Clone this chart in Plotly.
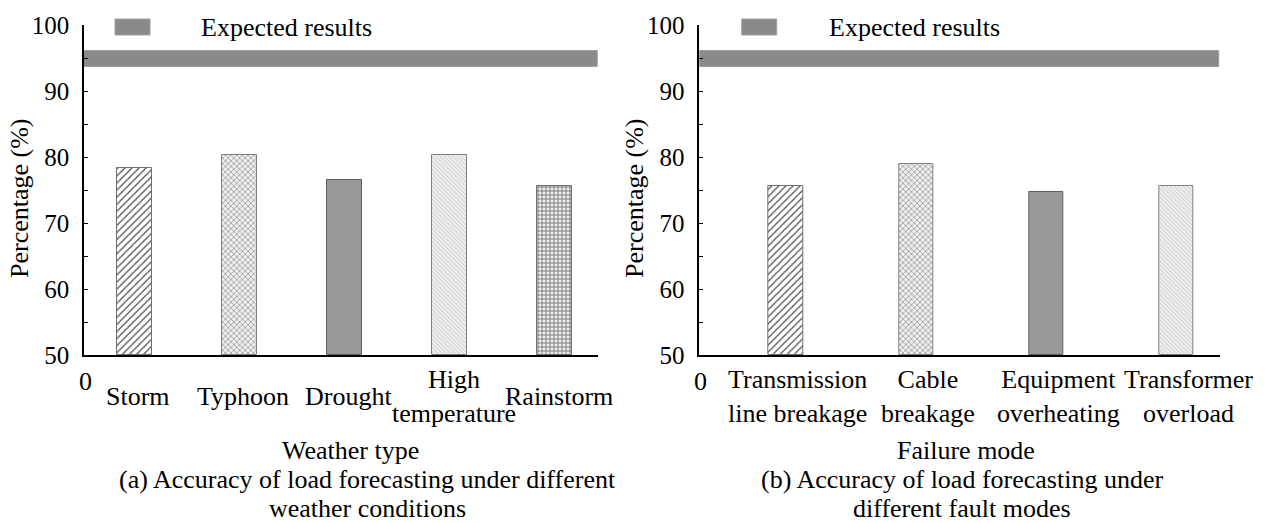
import plotly.graph_objects as go

W, H = 1267, 523
FONT = "Liberation Serif, Times New Roman, serif"

# ---------------- data ----------------
weather_types = ["Storm", "Typhoon", "Drought", "High<br>temperature", "Rainstorm"]
weather_acc = [78.4, 80.3, 76.5, 80.3, 75.6]

fault_modes = ["Transmission<br>line breakage", "Cable<br>breakage",
               "Equipment<br>overheating", "Transformer<br>overload"]
fault_acc = [75.6, 79.0, 74.7, 75.6]

expected_low, expected_high = 93.7, 96.0
expected_label = "Expected results"
y_ticks = [50, 60, 70, 80, 90, 100]
x_zero_label = "0"

# ---------------- helpers ----------------
def px(xp):
    return xp / W

def py(yp):
    return 1 - yp / H

styles = {
    "hatch": dict(color="white", line=dict(color="#707070", width=1),
                  pattern=dict(shape="/", fgcolor="#5a5a5a", bgcolor="white", size=5, solidity=0.28)),
    "cross": dict(color="white", line=dict(color="#808080", width=1),
                  pattern=dict(shape="x", fgcolor="#9a9a9a", bgcolor="#eeeeee", size=4, solidity=0.35)),
    "solid": dict(color="#999999", line=dict(color="#5e5e5e", width=1)),
    "light": dict(color="#f0f0f0", line=dict(color="#808080", width=1),
                  pattern=dict(shape="\\", fgcolor="#cccccc", bgcolor="#f0f0f0", size=3, solidity=0.3)),
    "grid": dict(color="white", line=dict(color="#707070", width=1),
                 pattern=dict(shape="+", fgcolor="#707070", bgcolor="#eeeeee", size=4, solidity=0.4)),
}
left_styles = ["hatch", "cross", "solid", "light", "grid"]
right_styles = ["hatch", "cross", "solid", "light"]

fig = go.Figure()

panels = [
    dict(xa="x", ya="y", labels=weather_types, vals=weather_acc, sty=left_styles,
         rng=[0.52, 5.41], width=0.333, dom=[px(84), px(597.7)], xshift=4,
         title="Weather type", title_x=350,
         caption=["(a) Accuracy of load forecasting under different", "weather conditions"],
         cap_x=367, ytitle_x=20, sw=(115, 150), leg_text_x=199),
    dict(xa="x2", ya="y2", labels=fault_modes, vals=fault_acc, sty=right_styles,
         rng=[1 / 3, 4 + 1 / 3], width=0.265, dom=[px(699.3), px(1219.5)], xshift=12,
         title="Failure mode", title_x=966,
         caption=["(b) Accuracy of load forecasting under", "different fault modes"],
         cap_x=962, ytitle_x=635, sw=(741.7, 776.7), leg_text_x=826.7),
]

TXT = dict(size=26, family=FONT, color="black")

annotations = []
shapes = []
for i, p in enumerate(panels):
    pos = list(range(1, len(p["vals"]) + 1))
    lo, hi = p["rng"]
    # expected band
    fig.add_trace(go.Bar(
        x=[(lo + hi) / 2], y=[expected_high - expected_low], base=[expected_low],
        width=[hi - lo], xaxis=p["xa"], yaxis=p["ya"],
        marker=dict(color="#8a8a8a", line=dict(color="#a0a0a0", width=1)),
        showlegend=False, hoverinfo="skip"))
    # bars
    for j, (v, s) in enumerate(zip(p["vals"], p["sty"])):
        fig.add_trace(go.Bar(
            x=[pos[j]], y=[v - 50], base=[50], width=[p["width"]],
            xaxis=p["xa"], yaxis=p["ya"], marker=styles[s], showlegend=False,
            name=p["labels"][j].replace("<br>", " ")))
    # category labels
    for j, lab in enumerate(p["labels"]):
        annotations.append(dict(x=pos[j], xref=p["xa"], y=py(396), yref="paper",
                                text=lab, showarrow=False, yanchor="middle", xanchor="center",
                                xshift=p["xshift"], font=TXT))
    # origin "0"
    annotations.append(dict(x=lo, xref=p["xa"], y=py(381), yref="paper", text=x_zero_label,
                            showarrow=False, yanchor="middle", xanchor="center", xshift=1,
                            font=TXT))
    # axis title
    annotations.append(dict(x=px(p["title_x"]), xref="paper", y=py(450), yref="paper",
                            text=p["title"], showarrow=False, yanchor="middle", xanchor="center",
                            borderpad=0, font=TXT))
    # caption (two lines)
    for k, (line, yc) in enumerate(zip(p["caption"], [479, 508])):
        annotations.append(dict(x=px(p["cap_x"]), xref="paper", y=py(yc), yref="paper",
                                text=line, showarrow=False, yanchor="middle", xanchor="center",
                                borderpad=0, font=TXT))
    # y title
    annotations.append(dict(x=px(p["ytitle_x"]), xref="paper", y=py(198), yref="paper",
                            text="Percentage (%)", textangle=-90, showarrow=False,
                            yanchor="middle", xanchor="center", font=TXT))
    # legend
    shapes.append(dict(type="rect", xref="paper", yref="paper",
                       x0=px(p["sw"][0]), x1=px(p["sw"][1]), y0=py(35), y1=py(19),
                       fillcolor="#8a8a8a", line=dict(color="#a0a0a0", width=1)))
    annotations.append(dict(x=px(p["leg_text_x"]), xref="paper", y=py(28), yref="paper",
                            text=expected_label, showarrow=False, xanchor="left", yanchor="middle",
                            font=TXT))

    xkey = "xaxis" if i == 0 else "xaxis2"
    ykey = "yaxis" if i == 0 else "yaxis2"
    fig.update_layout(**{
        xkey: dict(domain=p["dom"], range=p["rng"], anchor=p["ya"], showline=True,
                   linecolor="black", linewidth=1.5, showgrid=False, zeroline=False,
                   ticks="", showticklabels=False, fixedrange=True, automargin=False),
        ykey: dict(domain=[py(355), py(25)], range=[50, 100], anchor=p["xa"],
                   tickvals=y_ticks, ticks="inside", ticklen=4, tickwidth=1.2,
                   tickcolor="black", showline=True, linecolor="black", linewidth=1.5,
                   showgrid=False, zeroline=False, ticklabelstandoff=8, automargin=False,
                   tickfont=dict(size=25, family=FONT, color="black"),
                   minor=dict(dtick=5, tick0=50, ticks="inside", ticklen=4, tickwidth=1.2,
                              tickcolor="black", showgrid=False)),
    })

fig.update_layout(
    template="none",
    width=W, height=H, margin=dict(l=0, r=0, t=0, b=0, pad=0, autoexpand=False),
    paper_bgcolor="white", plot_bgcolor="white",
    barmode="overlay", bargap=0, showlegend=False,
    annotations=annotations, shapes=shapes,
    font=dict(family=FONT, size=25, color="black"),
)

fig.write_html("out.html")
